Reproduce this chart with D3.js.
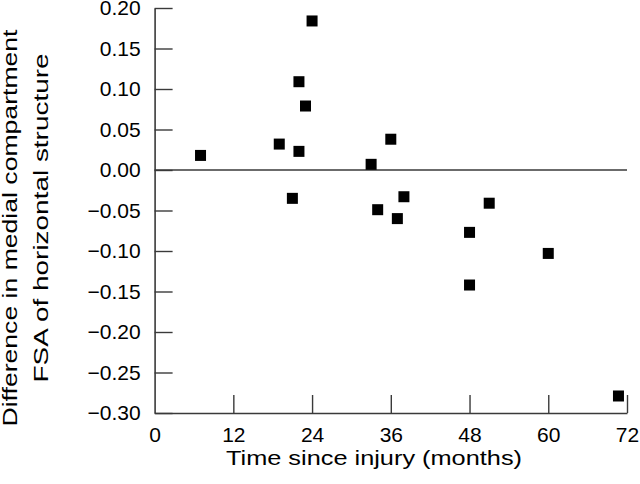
<!DOCTYPE html>
<html>
<head>
<meta charset="utf-8">
<script src="https://cdn.jsdelivr.net/npm/d3@7"></script>
<style>
  body { margin: 0; background: #fff; }
  text { font-family: "Liberation Sans", Arial, Helvetica, sans-serif; }
</style>
</head>
<body>
<svg id="chart" width="640" height="484"></svg>
<script>
// months since injury and the FSA difference for each patient
var months = [7, 19, 24, 22, 23, 22, 21, 33, 36, 34, 38, 37, 48, 51, 48, 60, 70.7];
var fsaDiff = [0.018, 0.032, 0.184, 0.109, 0.079, 0.023, -0.035, 0.007, 0.038, -0.049, -0.033, -0.060, -0.077, -0.041, -0.142, -0.103, -0.279];

var xTicks = [0, 12, 24, 36, 48, 60, 72];
var yTicks = [0.20, 0.15, 0.10, 0.05, 0.00, -0.05, -0.10, -0.15, -0.20, -0.25, -0.30];

var xTitle = "Time since injury (months)";
var yTitle = ["Difference in medial compartment", "FSA of horizontal structure"];

var svg = d3.select("#chart"),
    plotLeft = 154.6, plotRight = 627, plotTop = 8, plotBottom = 413;

var axisColor = "#3a3a3a";

var x = d3.scaleLinear().domain([0, 72]).range([plotLeft, plotRight]);
var y = d3.scaleLinear().domain([-0.3, 0.2]).range([plotBottom, plotTop]);

// y axis, ticks pointing inwards
var gy = svg.append("g")
    .attr("transform", "translate(" + plotLeft + ",0)")
    .call(d3.axisLeft(y).tickValues(yTicks).tickSizeInner(-18).tickSizeOuter(0).tickPadding(14)
      .tickFormat(function(d) { return d < 0 ? "\u2212" + d3.format(".2f")(-d) : d3.format(".2f")(d); }));

// x axis
var gx = svg.append("g")
    .attr("transform", "translate(0," + plotBottom + ")")
    .call(d3.axisBottom(x).tickValues(xTicks).tickSizeInner(-18).tickSizeOuter(0).tickPadding(14));

[gx, gy].forEach(function(g) {
  g.select(".domain").attr("stroke", axisColor).attr("stroke-width", 1.6);
  g.selectAll(".tick line").attr("stroke", axisColor).attr("stroke-width", 1.4);
  g.selectAll(".tick text").attr("fill", "#000").style("font-size", "21px")
    .style("font-family", "'Liberation Sans', Arial, sans-serif");
});
gx.selectAll(".tick").filter(function(d) { return d == 0; }).select("line").remove();

// zero line
svg.append("line")
    .attr("x1", x(0)).attr("x2", x(72))
    .attr("y1", y(0)).attr("y2", y(0))
    .attr("stroke", axisColor).attr("stroke-width", 1.6);

// points
var sz = 11;
svg.append("g").selectAll("rect")
    .data(months.map(function(m, i) { return {m: m, v: fsaDiff[i]}; }))
  .enter().append("rect")
    .attr("x", function(d) { return x(d.m) - sz / 2; })
    .attr("y", function(d) { return y(d.v) - sz / 2; })
    .attr("width", sz).attr("height", sz)
    .attr("fill", "#000");

// titles (the original lettering is a bit wider than Arial)
svg.append("text")
    .attr("x", 374).attr("y", 465)
    .attr("text-anchor", "middle")
    .attr("textLength", 296).attr("lengthAdjust", "spacingAndGlyphs")
    .style("font-size", "21px").attr("fill", "#000")
    .text(xTitle);

var yLen = [397, 329], yMid = [228, 218];
svg.selectAll(".ytitle")
    .data(yTitle)
  .enter().append("text")
    .attr("class", "ytitle")
    .attr("transform", function(d, i) { return "translate(" + (17 + i * 31) + "," + yMid[i] + ") rotate(-90)"; })
    .attr("text-anchor", "middle")
    .attr("textLength", function(d, i) { return yLen[i]; }).attr("lengthAdjust", "spacingAndGlyphs")
    .style("font-size", "21px").attr("fill", "#000")
    .text(function(d) { return d; });
</script>
</body>
</html>
